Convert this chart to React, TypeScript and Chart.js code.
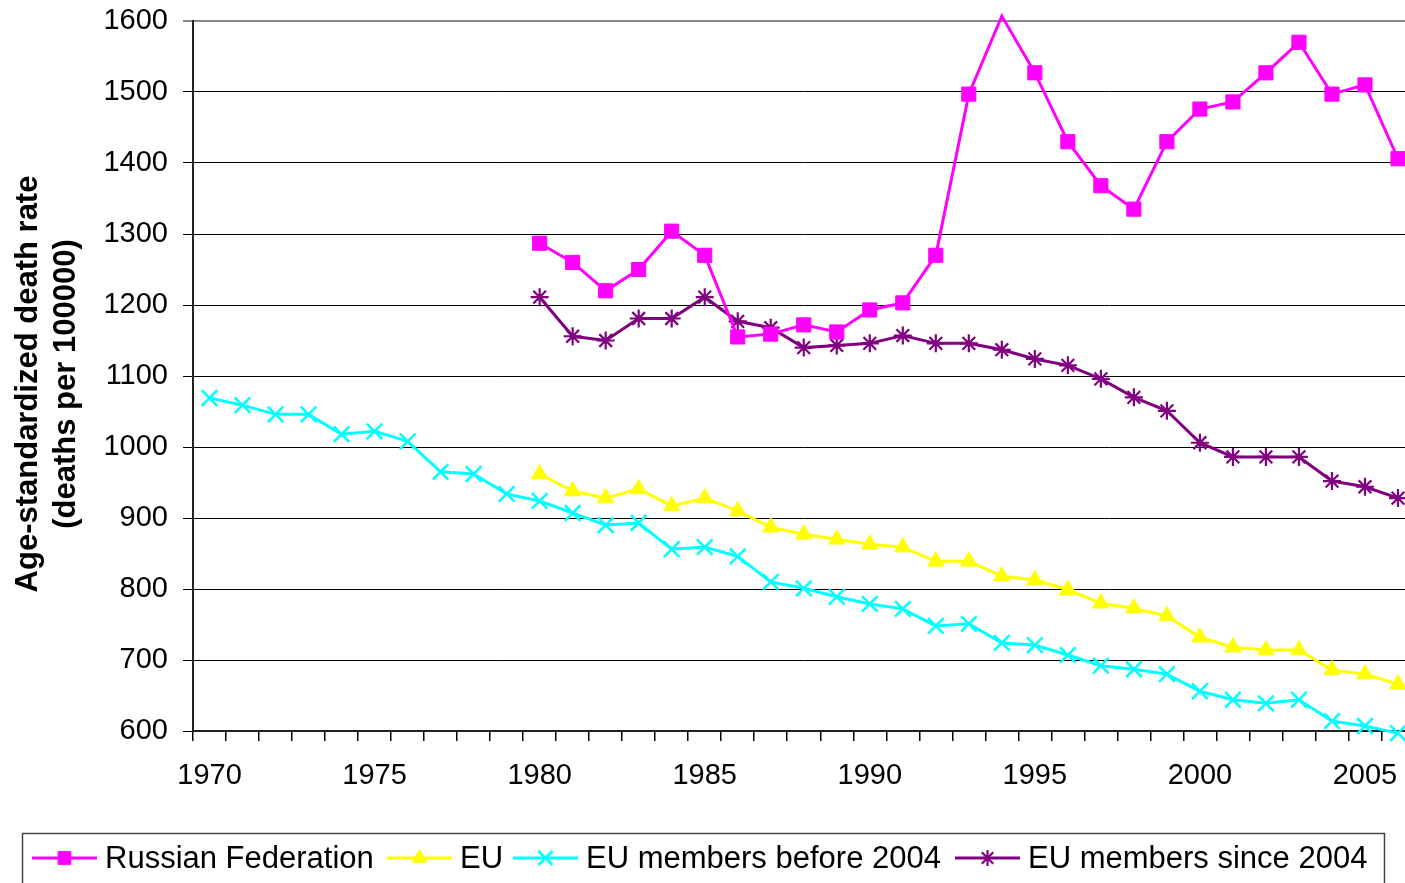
import React, { useEffect, useRef } from 'react';
import { Chart, registerables } from 'chart.js';

Chart.register(...registerables);

const years = [
  '1970', '1971', '1972', '1973', '1974', '1975', '1976', '1977', '1978', '1979',
  '1980', '1981', '1982', '1983', '1984', '1985', '1986', '1987', '1988', '1989',
  '1990', '1991', '1992', '1993', '1994', '1995', '1996', '1997', '1998', '1999',
  '2000', '2001', '2002', '2003', '2004', '2005', '2006',
];

const russia = [
  null, null, null, null, null, null, null, null, null, null,
  1287, 1260, 1220, 1250, 1304, 1270, 1155, 1159, 1172, 1162,
  1193, 1203, 1270, 1497, 1607, 1527, 1430, 1368, 1335, 1430,
  1476, 1486, 1527, 1570, 1497, 1510, 1406,
];

const eu = [
  null, null, null, null, null, null, null, null, null, null,
  962, 938, 928, 941, 917, 928, 910, 887, 877, 870,
  863, 859, 839, 839, 818, 813, 799, 780, 773, 762,
  732, 718, 714, 714, 686, 680, 666,
];

const euBefore2004 = [
  1069, 1059, 1046, 1046, 1018, 1022, 1008, 965, 962, 934,
  924, 907, 890, 893, 856, 859, 846, 810, 801, 789,
  779, 772, 748, 751, 724, 721, 707, 692, 687, 680,
  656, 644, 639, 644, 614, 607, 597,
];

const euSince2004 = [
  null, null, null, null, null, null, null, null, null, null,
  1211, 1156, 1150, 1181, 1181, 1211, 1177, 1168, 1140, 1143,
  1146, 1157, 1146, 1146, 1137, 1124, 1115, 1096, 1070, 1051,
  1006, 986, 986, 986, 952, 944, 928,
];

const yTicks = [600, 700, 800, 900, 1000, 1100, 1200, 1300, 1400, 1500, 1600];
const Y_MIN = 600;
const Y_MAX = 1600;

const seriesLabels = ['Russian Federation', 'EU', 'EU members before 2004', 'EU members since 2004'];
const seriesColors = ['#FF00FF', '#FFFF00', '#00FFFF', '#800080'];
const seriesStyles = ['rect', 'triangle', 'crossRot', 'star'];
const seriesRadius = [10, 9.5, 11, 9];
const seriesMarkerWidth = [1, 1, 2.5, 2.2];

const titleLines = ['Age-standardized death rate', '(deaths per 100000)'];

const FONT = '"Liberation Sans", Arial, sans-serif';

function drawMarker(ctx: CanvasRenderingContext2D, style: string, x: number, y: number, r: number, color: string, lw: number) {
  ctx.save();
  ctx.fillStyle = color;
  ctx.strokeStyle = color;
  ctx.lineWidth = lw;
  ctx.beginPath();
  if (style === 'rect') {
    const s = Math.SQRT1_2 * r;
    ctx.rect(x - s, y - s, 2 * s, 2 * s);
    ctx.fill();
    ctx.stroke();
  } else if (style === 'triangle') {
    let rad = 0;
    ctx.moveTo(x + Math.sin(rad) * r, y - Math.cos(rad) * r);
    rad += (2 * Math.PI) / 3;
    ctx.lineTo(x + Math.sin(rad) * r, y - Math.cos(rad) * r);
    rad += (2 * Math.PI) / 3;
    ctx.lineTo(x + Math.sin(rad) * r, y - Math.cos(rad) * r);
    ctx.closePath();
    ctx.fill();
    ctx.stroke();
  } else if (style === 'crossRot' || style === 'star') {
    const o = Math.cos(Math.PI / 4) * r;
    ctx.moveTo(x - o, y - o);
    ctx.lineTo(x + o, y + o);
    ctx.moveTo(x - o, y + o);
    ctx.lineTo(x + o, y - o);
    if (style === 'star') {
      ctx.moveTo(x, y - r);
      ctx.lineTo(x, y + r);
      ctx.moveTo(x - r, y);
      ctx.lineTo(x + r, y);
    }
    ctx.stroke();
  }
  ctx.restore();
}

const legendStarts = [32, 387, 513, 955];

const customLegend = {
  id: 'customLegend',
  afterDraw(chart: any) {
    const ctx: CanvasRenderingContext2D = chart.ctx;
    ctx.save();
    ctx.strokeStyle = '#444';
    ctx.lineWidth = 1.5;
    ctx.strokeRect(22.5, 833.5, 1362, 90);
    const y = 858;
    ctx.font = '31px ' + FONT;
    ctx.textBaseline = 'middle';
    ctx.textAlign = 'left';
    seriesLabels.forEach((label, i) => {
      const x = legendStarts[i];
      ctx.strokeStyle = seriesColors[i];
      ctx.lineWidth = 3;
      ctx.beginPath();
      ctx.moveTo(x, y);
      ctx.lineTo(x + 65, y);
      ctx.stroke();
      drawMarker(ctx, seriesStyles[i], x + 32.5, y, seriesRadius[i] * 0.9, seriesColors[i], seriesMarkerWidth[i]);
      ctx.fillStyle = '#000';
      ctx.fillText(label, x + 73, y + 1);
    });
    ctx.restore();
  },
};

const axisTitle = {
  id: 'axisTitle',
  afterDraw(chart: any) {
    const ctx: CanvasRenderingContext2D = chart.ctx;
    ctx.save();
    ctx.font = 'bold 31px ' + FONT;
    ctx.fillStyle = '#000';
    ctx.textAlign = 'center';
    ctx.textBaseline = 'middle';
    const xs = [28, 66];
    titleLines.forEach((line, i) => {
      ctx.save();
      ctx.translate(xs[i], 384);
      ctx.rotate(-Math.PI / 2);
      ctx.fillText(line, 0, 0);
      ctx.restore();
    });
    ctx.restore();
  },
};

export default function App() {
  const canvasRef = useRef<HTMLCanvasElement | null>(null);

  useEffect(() => {
    const canvas = canvasRef.current;
    if (!canvas) return;
    const W = 1440;
    const H = 920;
    const values = [russia, eu, euBefore2004, euSince2004];
    const chart = new Chart(canvas, {
      type: 'line',
      data: {
        labels: years,
        datasets: values.map((d, i) => ({
          label: seriesLabels[i],
          data: d,
          borderColor: seriesColors[i],
          backgroundColor: seriesColors[i],
          borderWidth: 3,
          pointStyle: seriesStyles[i] as any,
          pointRadius: (c: any) => (c.raw != null && c.raw > Y_MAX ? 0 : seriesRadius[i]),
          pointBorderWidth: seriesMarkerWidth[i],
          pointBackgroundColor: seriesColors[i],
          pointBorderColor: seriesColors[i],
          tension: 0,
          fill: false,
          spanGaps: false,
          clip: false as any,
        })),
      },
      options: {
        responsive: false,
        animation: false,
        devicePixelRatio: 1,
        layout: {
          padding: { left: 0, top: 21, right: W - 1414.5, bottom: H - 731 - 60 },
        },
        plugins: {
          legend: { display: false },
          tooltip: { enabled: false },
          title: { display: false },
        },
        scales: {
          x: {
            type: 'category',
            offset: true,
            afterFit: (scale: any) => {
              scale.height = 60;
            },
            grid: {
              display: true,
              offset: true,
              drawOnChartArea: false,
              drawTicks: true,
              tickLength: 10,
              color: '#000',
              lineWidth: 1.5,
            },
            border: { display: true, color: '#222', width: 2 },
            ticks: {
              autoSkip: false,
              maxRotation: 0,
              minRotation: 0,
              padding: 18,
              color: '#000',
              font: { family: FONT, size: 29 },
              callback: (_v: any, index: number) => (Number(years[index]) % 5 === 0 ? years[index] : ''),
            },
          },
          y: {
            type: 'linear',
            min: Y_MIN,
            max: Y_MAX,
            afterFit: (scale: any) => {
              scale.width = 193;
              scale.paddingTop = 0;
              scale.paddingBottom = 0;
            },
            afterBuildTicks: (scale: any) => {
              scale.ticks = yTicks.map((v) => ({ value: v }));
            },
            grid: {
              display: true,
              drawOnChartArea: true,
              drawTicks: true,
              tickLength: 10,
              color: (c: any) => (c.tick && c.tick.value === Y_MAX ? '#8a8a8a' : '#000'),
              lineWidth: (c: any) => (c.tick && c.tick.value === Y_MAX ? 2 : 1),
            },
            border: { display: true, color: '#222', width: 2 },
            ticks: {
              padding: 15,
              color: '#000',
              font: { family: FONT, size: 29 },
              callback: (v: any) => String(v),
            },
          },
        },
      },
      plugins: [customLegend, axisTitle],
    });
    return () => chart.destroy();
  }, []);

  return (
    <div
      style={{
        position: 'fixed',
        left: 0,
        top: 0,
        width: 1405,
        height: 883,
        overflow: 'hidden',
        background: '#fff',
      }}
    >
      <canvas ref={canvasRef} width={1440} height={920} style={{ display: 'block', width: 1440, height: 920 }} />
    </div>
  );
}
